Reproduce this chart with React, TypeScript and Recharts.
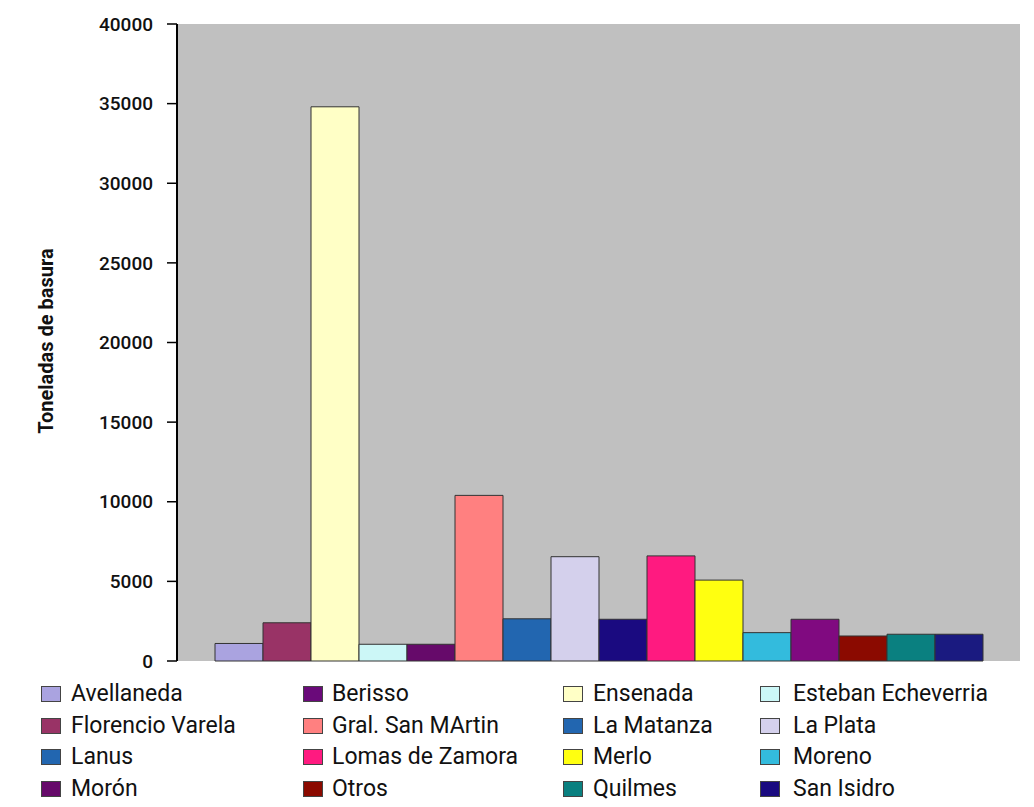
import React from "react";
import { BarChart, Bar, XAxis, YAxis, CartesianGrid } from "recharts";

// bars in the order they stand in the chart
const barNames = [
  "Avellaneda",
  "Florencio Varela",
  "Ensenada",
  "Esteban Echeverria",
  "Berisso",
  "Gral. San MArtin",
  "La Matanza",
  "La Plata",
  "Lanus",
  "Lomas de Zamora",
  "Merlo",
  "Moreno",
  "Morón",
  "Otros",
  "Quilmes",
  "San Isidro",
];
const barValues = [
  1100, 2400, 34800, 1050, 1050, 10400, 2650, 6550, 2620, 6600, 5080, 1780,
  2620, 1570, 1680, 1680,
];
const barColors = [
  "#aaa3e0", "#993366", "#ffffc6", "#ccf7f7", "#660a6a", "#ff8080",
  "#2266b0", "#d4d0ec", "#1a0a80", "#ff1a80", "#ffff10", "#33bbdd",
  "#800a80", "#8b0a00", "#0a8080", "#1a1a80",
];

// legend, row by row as printed under the chart
const legendNames = [
  "Avellaneda", "Berisso", "Ensenada", "Esteban Echeverria",
  "Florencio Varela", "Gral. San MArtin", "La Matanza", "La Plata",
  "Lanus", "Lomas de Zamora", "Merlo", "Moreno",
  "Morón", "Otros", "Quilmes", "San Isidro",
];
const legendColors = [
  "#aaa3e0", "#6a0a7a", "#ffffc6", "#ccf7f7",
  "#993366", "#ff8080", "#2266b0", "#d4d0ec",
  "#2266b0", "#ff1a80", "#ffff10", "#33bbdd",
  "#660a6a", "#8b0a00", "#0a8080", "#1a0a80",
];

const yTicks = [0, 5000, 10000, 15000, 20000, 25000, 30000, 35000, 40000];

const row: any = { name: "" };
barNames.forEach((n, i) => {
  row[`s${i}`] = barValues[i];
});
const chartData = [row];

const colSwatchX = [41, 303, 563, 760];
const colTextX = [71, 332, 593, 793];
const rowY = [694, 726, 757, 789];

const YLabel = () => (
  <text
    x={46}
    y={341}
    transform="rotate(-90 46 341)"
    textAnchor="middle"
    dominantBaseline="central"
    fontSize={20}
    fontWeight="bold"
    fill="#111"
  >
    Toneladas de basura
  </text>
);

export default function App() {
  return (
    <div
      style={{
        position: "absolute",
        left: 0,
        top: 0,
        width: 1034,
        height: 807,
        background: "#fff",
        fontFamily: "Roboto, sans-serif",
      }}
    >
      <BarChart
        width={1034}
        height={680}
        data={chartData}
        margin={{ top: 24, right: 14, left: 0, bottom: 19 }}
        barCategoryGap={38}
        barGap={0}
      >
        <CartesianGrid fill="#c0c0c0" horizontal={false} vertical={false} />
        <XAxis
          dataKey="name"
          height={0}
          tick={false}
          tickLine={false}
          axisLine={{ stroke: "#333", strokeWidth: 2 }}
        />
        <YAxis
          width={177}
          domain={[0, 40000]}
          ticks={yTicks}
          interval={0}
          tickSize={10}
          tickMargin={14}
          axisLine={{ stroke: "#000", strokeWidth: 2 }}
          tickLine={{ stroke: "#000", strokeWidth: 1.5 }}
          tick={{ fill: "#111", fontSize: 19, fontWeight: 500 }}
          label={YLabel}
        />
        {barNames.map((n, i) => (
          <Bar
            key={n + i}
            dataKey={`s${i}`}
            name={n}
            fill={barColors[i]}
            stroke="#333"
            strokeWidth={1}
            isAnimationActive={false}
          />
        ))}
      </BarChart>
      {legendNames.map((n, i) => {
        const c = i % 4;
        const r = Math.floor(i / 4);
        return (
          <React.Fragment key={n}>
            <div
              style={{
                position: "absolute",
                left: colSwatchX[c],
                top: rowY[r] - 8,
                width: 20,
                height: 16,
                background: legendColors[i],
                border: "1px solid #444",
                boxSizing: "border-box",
              }}
            />
            <div
              style={{
                position: "absolute",
                left: colTextX[c],
                top: rowY[r] - 15,
                height: 30,
                lineHeight: "30px",
                fontSize: 23,
                color: "#111",
                whiteSpace: "nowrap",
              }}
            >
              {n}
            </div>
          </React.Fragment>
        );
      })}
    </div>
  );
}
